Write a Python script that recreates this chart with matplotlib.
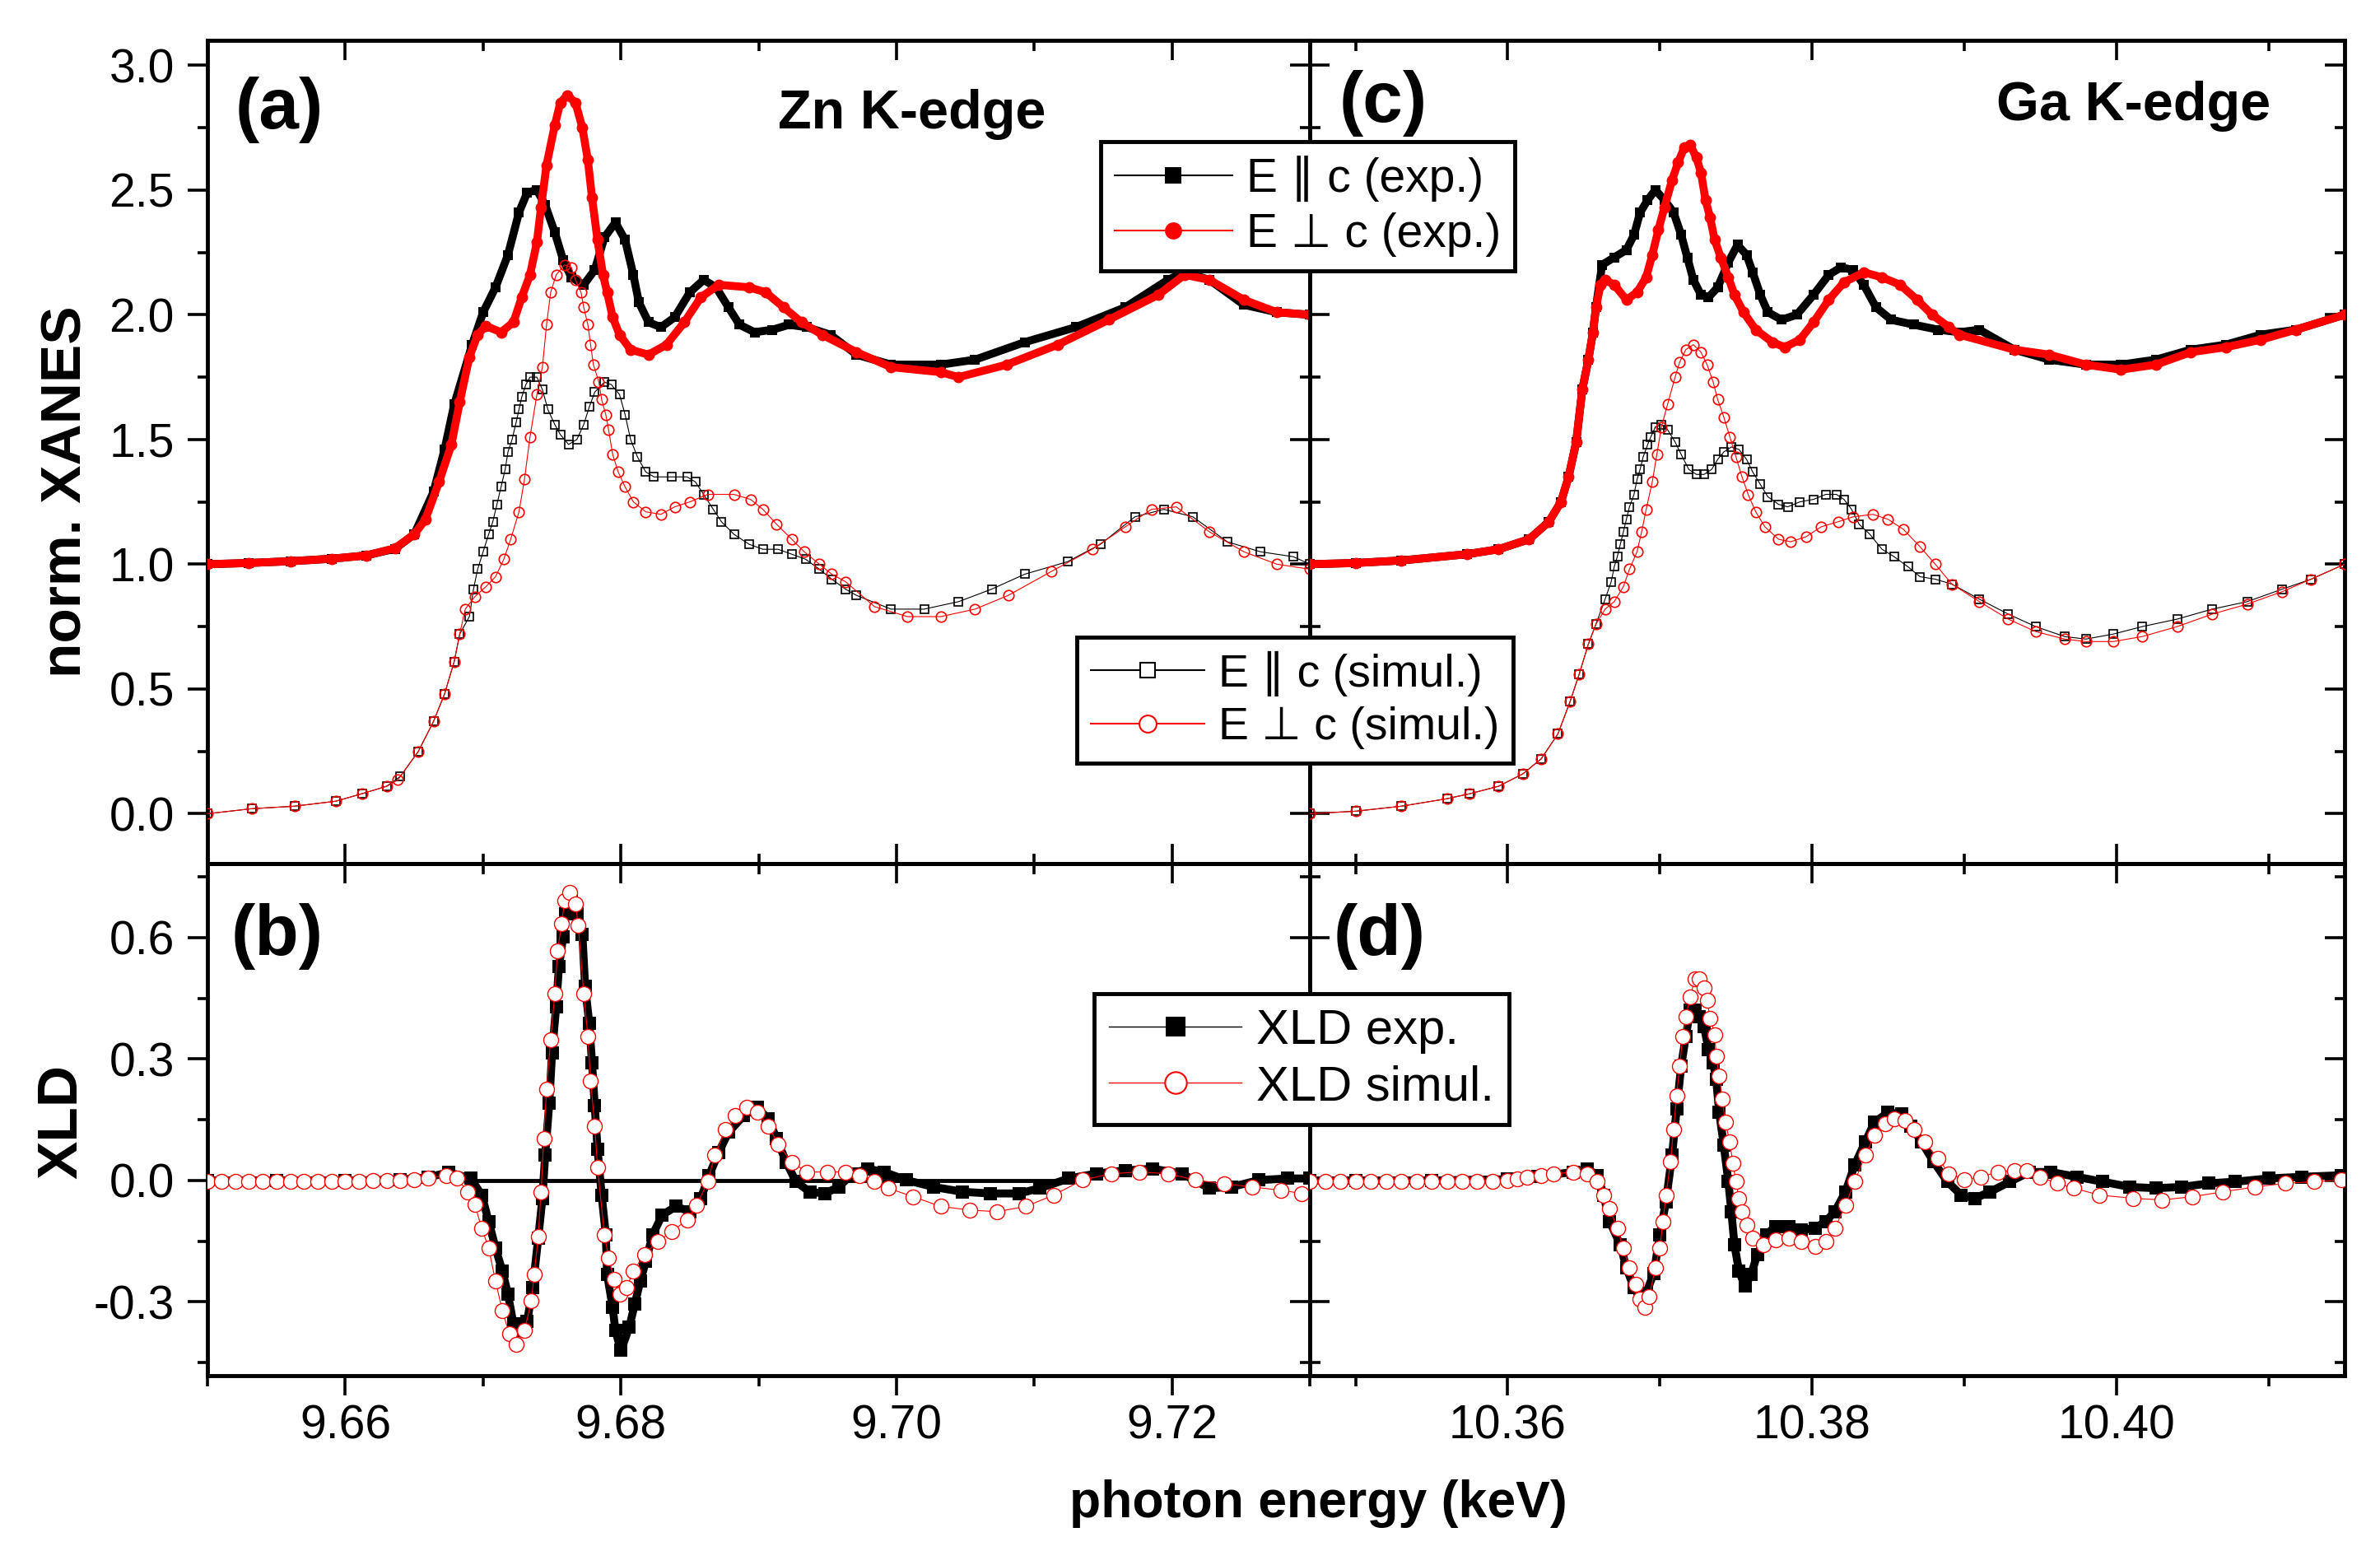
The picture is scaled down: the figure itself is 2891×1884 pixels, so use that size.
import numpy as np
import matplotlib.pyplot as plt
from matplotlib.ticker import MultipleLocator, FormatStrFormatter
from matplotlib.lines import Line2D

plt.rcParams['font.family'] = ['Liberation Sans', 'DejaVu Sans']
plt.rcParams['axes.unicode_minus'] = False

# ---- data: (photon energy keV, value) ----
# Zn K-edge XANES
zn_par_exp = [(9.6500,1.000),(9.6530,1.005),(9.6560,1.012),(9.6590,1.022),(9.6615,1.035),(9.6636,1.062),
    (9.6650,1.120),(9.6664,1.290),(9.6672,1.460),(9.6679,1.640),(9.6692,1.880),(9.6700,2.010),(9.6709,2.110),
    (9.6718,2.240),(9.6726,2.410),(9.6732,2.490),(9.6739,2.500),(9.6745,2.440),(9.6752,2.330),(9.6758,2.220),
    (9.6764,2.150),(9.6773,2.120),(9.6781,2.180),(9.6788,2.310),(9.6796,2.370),(9.6803,2.300),(9.6809,2.160),
    (9.6813,2.050),(9.6820,1.970),(9.6829,1.950),(9.6839,1.990),(9.6850,2.090),(9.6860,2.140),(9.6869,2.110),
    (9.6878,2.030),(9.6886,1.960),(9.6897,1.930),(9.6910,1.940),(9.6922,1.960),(9.6935,1.950),(9.6952,1.920),
    (9.6971,1.840),(9.6996,1.800),(9.7032,1.800),(9.7057,1.820),(9.7093,1.890),(9.7130,1.950),(9.7166,2.030),
    (9.7197,2.140),(9.7209,2.170),(9.7227,2.140),(9.7252,2.040),(9.7276,2.010),(9.7300,2.000)]
zn_perp_exp = [(9.6500,1.000),(9.6530,1.005),(9.6560,1.012),(9.6590,1.022),(9.6615,1.035),(9.6636,1.064),
    (9.6650,1.120),(9.6658,1.178),(9.6668,1.330),(9.6677,1.480),(9.6683,1.650),(9.6690,1.830),(9.6696,1.920),
    (9.6702,1.955),(9.6713,1.930),(9.6722,1.970),(9.6728,2.070),(9.6734,2.160),(9.6739,2.290),(9.6742,2.430),
    (9.6746,2.600),(9.6752,2.760),(9.6756,2.850),(9.6761,2.880),(9.6767,2.850),(9.6772,2.750),(9.6776,2.620),
    (9.6779,2.470),(9.6783,2.300),(9.6787,2.160),(9.6790,2.090),(9.6794,1.990),(9.6799,1.920),(9.6807,1.860),
    (9.6820,1.840),(9.6833,1.880),(9.6846,1.970),(9.6858,2.070),(9.6871,2.120),(9.6893,2.110),(9.6905,2.090),
    (9.6918,2.030),(9.6931,1.970),(9.6946,1.920),(9.6971,1.850),(9.6996,1.790),(9.7032,1.770),(9.7045,1.750),
    (9.7080,1.800),(9.7117,1.880),(9.7154,1.980),(9.7190,2.080),(9.7209,2.160),(9.7227,2.140),(9.7252,2.060),
    (9.7276,2.010),(9.7300,2.000)]
zn_par_sim = [(9.6500,0.000),(9.6532,0.020),(9.6563,0.030),(9.6593,0.050),(9.6612,0.080),(9.6630,0.110),
    (9.6640,0.150),(9.6653,0.250),(9.6664,0.370),(9.6672,0.480),(9.6679,0.610),(9.6683,0.720),(9.6690,0.790),
    (9.6693,0.900),(9.6696,0.980),(9.6700,1.050),(9.6704,1.120),(9.6707,1.170),(9.6710,1.240),(9.6713,1.310),
    (9.6716,1.380),(9.6718,1.450),(9.6721,1.500),(9.6724,1.570),(9.6726,1.620),(9.6728,1.670),(9.6731,1.720),
    (9.6734,1.750),(9.6739,1.750),(9.6743,1.700),(9.6747,1.620),(9.6752,1.560),(9.6756,1.520),(9.6762,1.480),
    (9.6768,1.500),(9.6773,1.560),(9.6777,1.630),(9.6781,1.690),(9.6788,1.730),(9.6793,1.720),(9.6799,1.680),
    (9.6803,1.600),(9.6807,1.500),(9.6812,1.430),(9.6818,1.370),(9.6824,1.350),(9.6837,1.350),(9.6848,1.350),
    (9.6854,1.330),(9.6860,1.280),(9.6867,1.220),(9.6873,1.170),(9.6882,1.120),(9.6893,1.080),(9.6903,1.060),
    (9.6914,1.060),(9.6924,1.040),(9.6934,1.020),(9.6944,0.980),(9.6953,0.940),(9.6963,0.900),(9.6971,0.875),
    (9.6996,0.820),(9.7020,0.820),(9.7045,0.850),(9.7069,0.900),(9.7093,0.960),(9.7124,1.010),(9.7148,1.080),
    (9.7173,1.190),(9.7194,1.220),(9.7215,1.190),(9.7240,1.090),(9.7264,1.050),(9.7288,1.030),(9.7300,1.000)]
zn_perp_sim = [(9.6500,0.000),(9.6532,0.020),(9.6563,0.030),(9.6593,0.050),(9.6612,0.080),(9.6630,0.110),
    (9.6638,0.135),(9.6653,0.250),(9.6664,0.370),(9.6672,0.480),(9.6679,0.610),(9.6683,0.720),(9.6687,0.820),
    (9.6694,0.870),(9.6702,0.910),(9.6709,0.950),(9.6715,1.020),(9.6720,1.100),(9.6726,1.210),(9.6730,1.340),
    (9.6734,1.510),(9.6739,1.680),(9.6743,1.790),(9.6746,1.960),(9.6749,2.090),(9.6753,2.160),(9.6759,2.200),
    (9.6764,2.190),(9.6767,2.140),(9.6771,2.090),(9.6773,2.030),(9.6776,1.960),(9.6778,1.880),(9.6780,1.800),
    (9.6784,1.730),(9.6786,1.660),(9.6789,1.600),(9.6791,1.540),(9.6794,1.440),(9.6798,1.370),(9.6803,1.310),
    (9.6809,1.250),(9.6818,1.210),(9.6829,1.200),(9.6839,1.230),(9.6850,1.250),(9.6863,1.280),(9.6882,1.280),
    (9.6894,1.260),(9.6903,1.220),(9.6913,1.160),(9.6924,1.100),(9.6933,1.050),(9.6944,1.000),(9.6953,0.960),
    (9.6963,0.930),(9.6984,0.830),(9.7008,0.790),(9.7032,0.790),(9.7057,0.820),(9.7081,0.875),(9.7112,0.970),
    (9.7142,1.060),(9.7166,1.150),(9.7185,1.220),(9.7203,1.230),(9.7227,1.130),(9.7252,1.050),(9.7276,1.000),
    (9.7300,0.980)]

# Ga K-edge XANES
ga_par_exp = [(10.3470,1.000),(10.3500,1.005),(10.3530,1.015),(10.3573,1.040),(10.3594,1.060),(10.3614,1.100),
    (10.3627,1.170),(10.3635,1.250),(10.3640,1.350),(10.3645,1.490),(10.3649,1.700),(10.3653,1.820),
    (10.3656,1.930),(10.3658,2.030),(10.3662,2.200),(10.3670,2.230),(10.3678,2.260),(10.3683,2.320),
    (10.3687,2.410),(10.3692,2.460),(10.3697,2.500),(10.3703,2.460),(10.3709,2.410),(10.3714,2.320),
    (10.3718,2.230),(10.3722,2.140),(10.3727,2.080),(10.3732,2.070),(10.3738,2.110),(10.3745,2.210),
    (10.3751,2.280),(10.3757,2.240),(10.3761,2.170),(10.3766,2.080),(10.3771,2.010),(10.3780,1.980),
    (10.3790,2.000),(10.3801,2.080),(10.3811,2.160),(10.3819,2.190),(10.3827,2.180),(10.3834,2.120),
    (10.3842,2.030),(10.3852,1.980),(10.3867,1.960),(10.3883,1.940),(10.3897,1.930),(10.3910,1.940),
    (10.3933,1.860),(10.3956,1.820),(10.3980,1.800),(10.4003,1.800),(10.4026,1.820),(10.4049,1.860),
    (10.4072,1.880),(10.4095,1.920),(10.4118,1.940),(10.4150,2.000)]
ga_perp_exp = [(10.3470,1.000),(10.3500,1.005),(10.3530,1.015),(10.3573,1.040),(10.3594,1.060),(10.3614,1.100),
    (10.3627,1.170),(10.3635,1.250),(10.3640,1.350),(10.3645,1.490),(10.3649,1.700),(10.3653,1.820),
    (10.3656,1.930),(10.3658,2.030),(10.3661,2.120),(10.3664,2.140),(10.3670,2.120),(10.3678,2.060),
    (10.3685,2.090),(10.3691,2.150),(10.3695,2.240),(10.3699,2.340),(10.3703,2.430),(10.3708,2.540),
    (10.3712,2.610),(10.3716,2.670),(10.3720,2.680),(10.3724,2.630),(10.3727,2.570),(10.3730,2.460),
    (10.3733,2.390),(10.3736,2.300),(10.3740,2.230),(10.3745,2.150),(10.3749,2.080),(10.3755,2.010),
    (10.3763,1.940),(10.3774,1.890),(10.3782,1.870),(10.3792,1.900),(10.3801,1.970),(10.3811,2.060),
    (10.3821,2.130),(10.3834,2.170),(10.3846,2.150),(10.3858,2.120),(10.3869,2.060),(10.3879,2.000),
    (10.3890,1.950),(10.3897,1.920),(10.3933,1.860),(10.3956,1.840),(10.3980,1.800),(10.4003,1.780),
    (10.4026,1.800),(10.4049,1.850),(10.4072,1.870),(10.4095,1.900),(10.4118,1.940),(10.4150,2.000)]
ga_par_sim = [(10.3470,0.000),(10.3500,0.010),(10.3530,0.030),(10.3560,0.060),(10.3575,0.080),(10.3594,0.110),
    (10.3610,0.160),(10.3622,0.220),(10.3633,0.320),(10.3641,0.450),(10.3647,0.560),(10.3653,0.680),
    (10.3658,0.760),(10.3664,0.860),(10.3668,0.930),(10.3670,0.990),(10.3672,1.030),(10.3674,1.080),
    (10.3676,1.130),(10.3678,1.180),(10.3680,1.230),(10.3683,1.280),(10.3685,1.340),(10.3687,1.380),
    (10.3689,1.430),(10.3692,1.480),(10.3694,1.510),(10.3697,1.550),(10.3701,1.560),(10.3705,1.540),
    (10.3710,1.490),(10.3714,1.440),(10.3719,1.380),(10.3724,1.360),(10.3729,1.360),(10.3734,1.380),
    (10.3738,1.420),(10.3742,1.450),(10.3747,1.470),(10.3752,1.460),(10.3757,1.420),(10.3761,1.370),
    (10.3766,1.320),(10.3771,1.270),(10.3778,1.240),(10.3784,1.230),(10.3792,1.250),(10.3801,1.260),
    (10.3809,1.280),(10.3816,1.280),(10.3821,1.260),(10.3826,1.220),(10.3831,1.160),(10.3838,1.120),
    (10.3846,1.060),(10.3854,1.030),(10.3863,0.990),(10.3871,0.950),(10.3881,0.940),(10.3892,0.920),
    (10.3910,0.860),(10.3929,0.800),(10.3947,0.750),(10.3966,0.710),(10.3980,0.700),(10.3998,0.720),
    (10.4017,0.750),(10.4040,0.780),(10.4063,0.820),(10.4086,0.850),(10.4109,0.900),(10.4128,0.940),
    (10.4150,1.000)]
ga_perp_sim = [(10.3470,0.000),(10.3500,0.010),(10.3530,0.030),(10.3560,0.060),(10.3575,0.080),(10.3594,0.110),
    (10.3610,0.160),(10.3622,0.220),(10.3633,0.320),(10.3641,0.450),(10.3647,0.560),(10.3653,0.680),
    (10.3658,0.760),(10.3664,0.820),(10.3670,0.850),(10.3676,0.910),(10.3680,0.980),(10.3685,1.050),
    (10.3688,1.130),(10.3691,1.220),(10.3695,1.330),(10.3698,1.440),(10.3701,1.550),(10.3705,1.640),
    (10.3710,1.750),(10.3713,1.810),(10.3717,1.860),(10.3722,1.880),(10.3727,1.850),(10.3731,1.800),
    (10.3735,1.730),(10.3738,1.660),(10.3742,1.590),(10.3746,1.510),(10.3750,1.430),(10.3754,1.350),
    (10.3758,1.280),(10.3763,1.210),(10.3769,1.150),(10.3778,1.100),(10.3786,1.090),(10.3796,1.110),
    (10.3806,1.150),(10.3817,1.170),(10.3827,1.190),(10.3840,1.200),(10.3850,1.180),(10.3860,1.140),
    (10.3871,1.070),(10.3881,1.000),(10.3892,0.920),(10.3910,0.850),(10.3929,0.780),(10.3947,0.730),
    (10.3966,0.700),(10.3980,0.690),(10.3998,0.690),(10.4017,0.710),(10.4040,0.750),(10.4063,0.800),
    (10.4086,0.840),(10.4109,0.890),(10.4128,0.940),(10.4150,1.000)]

# XLD
zn_xld_exp = [(9.6500,0.000),(9.6550,0.000),(9.6600,0.000),(9.6640,0.002),(9.6660,0.008),(9.6675,0.020),
    (9.6691,0.005),(9.6699,-0.036),(9.6704,-0.101),(9.6709,-0.167),(9.6714,-0.224),(9.6718,-0.281),
    (9.6722,-0.355),(9.6727,-0.371),(9.6732,-0.347),(9.6736,-0.265),(9.6740,-0.142),(9.6743,-0.044),
    (9.6745,0.062),(9.6748,0.192),(9.6750,0.315),(9.6753,0.430),(9.6755,0.528),(9.6758,0.601),(9.6760,0.658),
    (9.6764,0.691),(9.6768,0.658),(9.6772,0.609),(9.6774,0.479),(9.6777,0.389),(9.6779,0.291),(9.6781,0.184),
    (9.6783,0.078),(9.6786,-0.036),(9.6789,-0.134),(9.6790,-0.232),(9.6794,-0.314),(9.6796,-0.371),
    (9.6800,-0.420),(9.6806,-0.363),(9.6810,-0.306),(9.6814,-0.249),(9.6818,-0.200),(9.6823,-0.134),
    (9.6830,-0.085),(9.6840,-0.064),(9.6850,-0.077),(9.6858,-0.044),(9.6864,0.013),(9.6871,0.070),
    (9.6878,0.119),(9.6889,0.160),(9.6899,0.180),(9.6907,0.152),(9.6913,0.103),(9.6920,0.045),(9.6927,-0.003),
    (9.6937,-0.028),(9.6948,-0.032),(9.6958,-0.016),(9.6968,0.017),(9.6979,0.029),(9.6991,0.021),
    (9.7007,0.001),(9.7027,-0.016),(9.7048,-0.028),(9.7068,-0.032),(9.7089,-0.032),(9.7104,-0.019),
    (9.7125,0.005),(9.7145,0.017),(9.7166,0.025),(9.7186,0.029),(9.7207,0.017),(9.7227,-0.019),
    (9.7243,-0.016),(9.7263,0.001),(9.7284,0.005),(9.7300,0.005)]
zn_xld_sim = [(9.6500,-0.003),(9.6510,-0.003),(9.6520,-0.003),(9.6530,-0.003),(9.6540,-0.003),(9.6550,-0.003),
    (9.6560,-0.003),(9.6570,-0.003),(9.6580,-0.003),(9.6590,-0.003),(9.6600,-0.003),(9.6610,-0.002),
    (9.6620,-0.001),(9.6630,0.000),(9.6640,0.000),(9.6650,0.002),(9.6660,0.005),(9.6673,0.013),(9.6681,0.005),
    (9.6689,-0.028),(9.6694,-0.060),(9.6699,-0.118),(9.6704,-0.167),(9.6709,-0.249),(9.6714,-0.322),
    (9.6719,-0.379),(9.6724,-0.404),(9.6730,-0.371),(9.6735,-0.298),(9.6737,-0.232),(9.6740,-0.138),
    (9.6742,-0.028),(9.6744,0.103),(9.6746,0.225),(9.6749,0.348),(9.6752,0.462),(9.6754,0.568),(9.6757,0.634),
    (9.6759,0.691),(9.6763,0.712),(9.6767,0.683),(9.6769,0.630),(9.6773,0.462),(9.6776,0.356),(9.6778,0.246),
    (9.6781,0.135),(9.6783,0.033),(9.6788,-0.134),(9.6791,-0.191),(9.6795,-0.244),(9.6799,-0.281),
    (9.6804,-0.265),(9.6809,-0.224),(9.6817,-0.183),(9.6827,-0.150),(9.6837,-0.126),(9.6848,-0.097),
    (9.6855,-0.061),(9.6863,-0.003),(9.6868,0.062),(9.6876,0.127),(9.6883,0.160),(9.6891,0.180),(9.6899,0.168),
    (9.6907,0.135),(9.6914,0.090),(9.6924,0.045),(9.6935,0.021),(9.6950,0.021),(9.6963,0.021),(9.6973,0.013),
    (9.6984,-0.003),(9.6994,-0.019),(9.7012,-0.040),(9.7032,-0.064),(9.7053,-0.073),(9.7073,-0.077),
    (9.7094,-0.064),(9.7114,-0.036),(9.7135,0.001),(9.7156,0.017),(9.7176,0.021),(9.7197,0.017),(9.7217,0.001),
    (9.7238,-0.008),(9.7258,-0.016),(9.7279,-0.024),(9.7294,-0.032)]
ga_xld_exp = [(10.3470,0.000),(10.3500,0.000),(10.3550,0.000),(10.3600,0.003),(10.3620,0.010),(10.3643,0.021),
    (10.3652,0.029),(10.3659,0.013),(10.3663,-0.036),(10.3667,-0.101),(10.3674,-0.159),(10.3678,-0.216),
    (10.3683,-0.265),(10.3687,-0.286),(10.3691,-0.278),(10.3696,-0.229),(10.3700,-0.134),(10.3704,-0.052),
    (10.3708,0.062),(10.3711,0.176),(10.3714,0.283),(10.3717,0.356),(10.3720,0.421),(10.3723,0.421),
    (10.3726,0.405),(10.3729,0.381),(10.3732,0.323),(10.3735,0.291),(10.3737,0.250),(10.3739,0.168),
    (10.3742,0.087),(10.3745,-0.003),(10.3747,-0.077),(10.3749,-0.159),(10.3752,-0.224),(10.3756,-0.261),
    (10.3760,-0.232),(10.3764,-0.183),(10.3770,-0.134),(10.3776,-0.113),(10.3785,-0.113),(10.3793,-0.122),
    (10.3802,-0.118),(10.3809,-0.101),(10.3815,-0.077),(10.3822,-0.028),(10.3828,0.038),(10.3835,0.095),
    (10.3841,0.144),(10.3850,0.168),(10.3859,0.164),(10.3865,0.135),(10.3872,0.095),(10.3880,0.046),
    (10.3889,-0.003),(10.3898,-0.036),(10.3907,-0.044),(10.3917,-0.028),(10.3930,-0.003),(10.3943,0.021),
    (10.3957,0.021),(10.3974,0.009),(10.3991,-0.003),(10.4009,-0.016),(10.4026,-0.019),(10.4043,-0.016),
    (10.4061,-0.007),(10.4078,-0.003),(10.4100,0.005),(10.4122,0.009),(10.4148,0.013)]
ga_xld_sim = [(10.3470,-0.003),(10.3480,-0.003),(10.3490,-0.003),(10.3500,-0.003),(10.3510,-0.003),
    (10.3520,-0.003),(10.3530,-0.003),(10.3540,-0.003),(10.3550,-0.003),(10.3560,-0.003),(10.3570,-0.003),
    (10.3580,-0.002),(10.3590,-0.002),(10.3600,-0.001),(10.3606,0.003),(10.3613,0.008),(10.3622,0.012),
    (10.3630,0.016),(10.3643,0.021),(10.3652,0.017),(10.3659,-0.003),(10.3663,-0.036),(10.3667,-0.069),
    (10.3672,-0.118),(10.3676,-0.167),(10.3680,-0.216),(10.3684,-0.257),(10.3687,-0.294),(10.3690,-0.314),
    (10.3693,-0.286),(10.3697,-0.216),(10.3700,-0.167),(10.3702,-0.101),(10.3704,-0.036),(10.3707,0.046),
    (10.3709,0.127),(10.3711,0.209),(10.3713,0.283),(10.3715,0.356),(10.3717,0.405),(10.3720,0.454),
    (10.3723,0.499),(10.3726,0.499),(10.3729,0.475),(10.3731,0.446),(10.3733,0.401),(10.3736,0.360),
    (10.3737,0.307),(10.3739,0.258),(10.3741,0.201),(10.3743,0.144),(10.3746,0.095),(10.3748,0.042),
    (10.3750,-0.003),(10.3752,-0.044),(10.3754,-0.077),(10.3757,-0.110),(10.3761,-0.142),(10.3768,-0.159),
    (10.3776,-0.146),(10.3785,-0.142),(10.3793,-0.150),(10.3802,-0.163),(10.3809,-0.150),(10.3815,-0.118),
    (10.3822,-0.061),(10.3828,-0.003),(10.3835,0.062),(10.3841,0.111),(10.3848,0.140),(10.3854,0.152),
    (10.3861,0.148),(10.3867,0.127),(10.3874,0.095),(10.3883,0.054),(10.3890,0.017),(10.3900,0.001),
    (10.3911,0.009),(10.3922,0.021),(10.3933,0.025),(10.3941,0.025),(10.3950,0.009),(10.3961,-0.007),
    (10.3972,-0.019),(10.3989,-0.036),(10.4011,-0.044),(10.4030,-0.048),(10.4050,-0.040),(10.4070,-0.028),
    (10.4091,-0.016),(10.4111,-0.007),(10.4130,-0.003),(10.4148,0.001)]

zn_xlim = (9.65, 9.73)
ga_xlim = (10.347, 10.415)
xanes_ylim = (-0.2, 3.1)
xld_ylim = (-0.482, 0.783)
zn_zero_span = (9.6694, 9.7122)   # horizontal zero line drawn in (b)

legend_exp = ['E \u2225 c (exp.)', 'E \u22a5 c (exp.)']
legend_sim = ['E \u2225 c (simul.)', 'E \u22a5 c (simul.)']
legend_xld = ['XLD exp.', 'XLD simul.']

TICK_FS = 41
SPINE_W = 3.5


def xy(data):
    a = np.array(data)
    return a[:, 0], a[:, 1]


fig = plt.figure(figsize=(28.91, 18.84), dpi=100)
ax_a = fig.add_axes([0.0872, 0.4432, 0.4632, 0.5308])
ax_c = fig.add_axes([0.5504, 0.4432, 0.4347, 0.5308])
ax_b = fig.add_axes([0.0872, 0.1131, 0.4632, 0.3301])
ax_d = fig.add_axes([0.5504, 0.1131, 0.4347, 0.3301])


def base_style(ax, xlim, ylim, ymaj, ymin):
    ax.set_xlim(*xlim)
    ax.set_ylim(*ylim)
    ax.xaxis.set_major_locator(MultipleLocator(0.02))
    ax.xaxis.set_minor_locator(MultipleLocator(0.01))
    ax.yaxis.set_major_locator(MultipleLocator(ymaj))
    ax.yaxis.set_minor_locator(MultipleLocator(ymin))
    ax.xaxis.set_major_formatter(FormatStrFormatter('%.2f'))
    ax.yaxis.set_major_formatter(FormatStrFormatter('%.1f'))
    for s in ax.spines.values():
        s.set_linewidth(SPINE_W)
    ax.tick_params(which='major', length=17, width=2.6, labelsize=TICK_FS)
    ax.tick_params(which='minor', length=9, width=2.6)


def inward_twin(ax, side, maj, mn):
    if side in ('right', 'left'):
        sec = ax.secondary_yaxis(side)
        sec.yaxis.set_major_locator(MultipleLocator(maj))
        sec.yaxis.set_minor_locator(MultipleLocator(mn))
    else:
        sec = ax.secondary_xaxis(side)
        sec.xaxis.set_major_locator(MultipleLocator(maj))
        sec.xaxis.set_minor_locator(MultipleLocator(mn))
    sec.tick_params(which='major', direction='in', length=17, width=2.6,
                    labelleft=False, labelright=False, labeltop=False, labelbottom=False)
    sec.tick_params(which='minor', direction='in', length=9, width=2.6)
    for s in sec.spines.values():
        s.set_linewidth(SPINE_W)


# top panels
for ax, xl in ((ax_a, zn_xlim), (ax_c, ga_xlim)):
    base_style(ax, xl, xanes_ylim, 0.5, 0.25)
    ax.tick_params(axis='x', which='both', direction='in', top=True, bottom=True,
                   labelbottom=False)
ax_a.tick_params(axis='y', which='both', direction='out', left=True, right=False, pad=12)
inward_twin(ax_a, 'right', 0.5, 0.25)
ax_c.tick_params(axis='y', which='both', direction='in', left=True, right=True, labelleft=False)

# bottom panels
for ax, xl in ((ax_b, zn_xlim), (ax_d, ga_xlim)):
    base_style(ax, xl, xld_ylim, 0.3, 0.15)
    ax.tick_params(axis='x', which='both', direction='out', top=False, bottom=True, pad=8)
    inward_twin(ax, 'top', 0.02, 0.01)
ax_b.tick_params(axis='y', which='both', direction='out', left=True, right=False, pad=12)
inward_twin(ax_b, 'right', 0.3, 0.15)
ax_d.tick_params(axis='y', which='both', direction='in', left=True, right=True, labelleft=False)

# XANES curves
for ax, par_e, perp_e, par_s, perp_s in ((ax_a, zn_par_exp, zn_perp_exp, zn_par_sim, zn_perp_sim),
                                         (ax_c, ga_par_exp, ga_perp_exp, ga_par_sim, ga_perp_sim)):
    x, y = xy(par_e)
    ax.plot(x, y, '-', color='k', lw=7, marker='s', ms=9, mew=0, zorder=3)
    x, y = xy(perp_e)
    ax.plot(x, y, '-', color='r', lw=7, marker='o', ms=10, mew=0, zorder=4)
    x, y = xy(par_s)
    ax.plot(x, y, '-', color='k', lw=0.8, marker='s', ms=7.5, mfc='none', mec='k', mew=1.2, zorder=5)
    x, y = xy(perp_s)
    ax.plot(x, y, '-', color='r', lw=0.8, marker='o', ms=9, mfc='none', mec='r', mew=1.2, zorder=6)

# XLD curves
ax_b.hlines(0, *zn_zero_span, color='k', lw=3.5, zorder=2)
for ax, ex, sm in ((ax_b, zn_xld_exp, zn_xld_sim), (ax_d, ga_xld_exp, ga_xld_sim)):
    x, y = xy(ex)
    ax.plot(x, y, '-', color='k', lw=7, marker='s', ms=12, mew=0, zorder=3)
    x, y = xy(sm)
    ax.plot(x, y, '-', color='r', lw=0.8, marker='o', ms=13, mfc='white', mec='r', mew=1.0, zorder=4)

# panel labels / titles
lab = dict(fontsize=63, fontweight='bold', ha='left', va='center')
ax_a.text(0.025, 0.915, '(a)', transform=ax_a.transAxes, **lab)
ax_c.text(0.028, 0.923, '(c)', transform=ax_c.transAxes, **lab)
ax_b.text(0.021, 0.857, '(b)', transform=ax_b.transAxes, **lab)
ax_d.text(0.023, 0.858, '(d)', transform=ax_d.transAxes, **lab)
ax_a.text(0.639, 0.893, 'Zn K-edge', transform=ax_a.transAxes, fontsize=48,
          fontweight='bold', ha='center', va='baseline')
ax_c.text(0.796, 0.903, 'Ga K-edge', transform=ax_c.transAxes, fontsize=48,
          fontweight='bold', ha='center', va='baseline')

fig.text(0.028, 0.683, 'norm. XANES', rotation=90, fontsize=50, fontweight='bold',
         ha='center', va='center')
fig.text(0.026, 0.277, 'XLD', rotation=90, fontsize=50, fontweight='bold',
         ha='center', va='center')
fig.text(0.554, 0.0218, 'photon energy (keV)', fontsize=45, fontweight='bold',
         ha='center', va='baseline')

# legends
def make_legend(handles, labels, anchor, fs, hl):
    leg = fig.legend(handles, labels, loc='upper left', bbox_to_anchor=anchor,
                     fontsize=fs, frameon=True, fancybox=False, framealpha=1,
                     edgecolor='k', handlelength=hl, handletextpad=0.3,
                     borderaxespad=0, borderpad=0.3, labelspacing=0.22)
    leg.get_frame().set_linewidth(3.5)
    return leg

h_exp = [Line2D([], [], color='k', lw=1.5, marker='s', ms=14, mew=0),
         Line2D([], [], color='r', lw=1.5, marker='o', ms=15, mew=0)]
h_sim = [Line2D([], [], color='k', lw=1.5, marker='s', ms=13, mfc='white', mec='k', mew=1.5),
         Line2D([], [], color='r', lw=1.5, marker='o', ms=15, mfc='white', mec='r', mew=1.5)]
h_xld = [Line2D([], [], color='k', lw=1.0, marker='s', ms=17, mew=0),
         Line2D([], [], color='r', lw=1.0, marker='o', ms=19, mfc='white', mec='r', mew=1.5)]
make_legend(h_exp, legend_exp, (0.4625, 0.9087), 41, 2.5)
make_legend(h_sim, legend_sim, (0.4524, 0.5892), 40, 2.5)
make_legend(h_xld, legend_xld, (0.4597, 0.3593), 43, 2.7)

fig.savefig('out.png', dpi=100)
